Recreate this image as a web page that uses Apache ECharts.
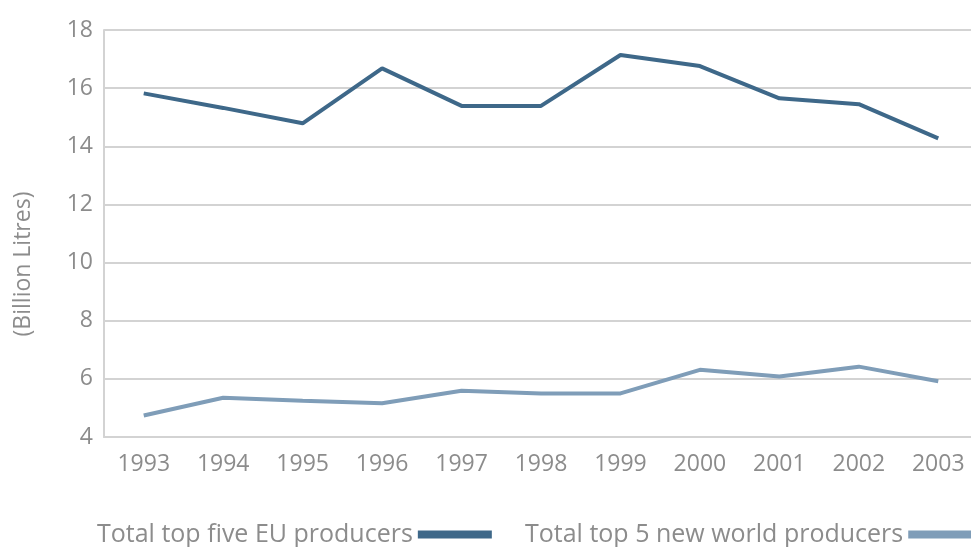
<!DOCTYPE html>
<html>
<head>
<meta charset="utf-8">
<script src="https://cdn.jsdelivr.net/npm/echarts@6/dist/echarts.min.js"></script>
<style>
  html, body { margin: 0; padding: 0; background: #ffffff; }
  #chart { width: 971px; height: 547px; }
</style>
</head>
<body>
<div id="chart"></div>
<script>
// Wine production, billion litres
const years = ['1993', '1994', '1995', '1996', '1997', '1998', '1999', '2000', '2001', '2002', '2003'];
const euTopFive = [15.82, 15.32, 14.79, 16.68, 15.39, 15.39, 17.14, 16.76, 15.65, 15.45, 14.27];
const newWorldTopFive = [4.74, 5.35, 5.25, 5.16, 5.59, 5.50, 5.50, 6.31, 6.08, 6.42, 5.92];
const seriesNames = ['Total top five EU producers', 'Total top 5 new world producers'];
const unitLabel = '(Billion Litres)';

const textGray = '#8c8c8c';
const gridGray = '#d3d3d3';
const fontFamily = '"Open Sans", Lato, sans-serif';

// one legend block per series, icon placed after the text
function legendFor(name, left) {
  return {
    show: true,
    bottom: -5,
    left: left,
    align: 'right',
    itemWidth: 74,
    itemHeight: 8,
    icon: 'rect',
    textStyle: { color: textGray, fontSize: 25, fontFamily: fontFamily },
    data: [name]
  };
}

const chart = echarts.init(document.getElementById('chart'));
chart.setOption({
  animation: false,
  // plot area runs a little past the right edge of the canvas
  grid: { left: 104, top: 30, width: 874, height: 407, outerBoundsMode: 'none', containLabel: false },
  legend: [legendFor(seriesNames[0], 92), legendFor(seriesNames[1], 520)],
  graphic: [{
    type: 'text',
    x: 23,
    y: 264,
    rotation: Math.PI / 2,
    style: {
      text: unitLabel,
      fill: textGray,
      font: '23px ' + fontFamily,
      align: 'center',
      verticalAlign: 'middle'
    }
  }],
  xAxis: {
    type: 'category',
    data: years,
    boundaryGap: true,
    axisLine: { show: true, lineStyle: { color: gridGray, width: 2 } },
    axisTick: { show: false },
    axisLabel: { color: textGray, fontSize: 23, fontFamily: fontFamily, margin: 16 }
  },
  yAxis: {
    type: 'value',
    min: 4,
    max: 18,
    interval: 2,
    axisLine: { show: true, lineStyle: { color: gridGray, width: 2 } },
    axisTick: { show: false },
    axisLabel: { color: textGray, fontSize: 23, fontFamily: fontFamily, margin: 11 },
    splitLine: { show: true, lineStyle: { color: gridGray, width: 2 } }
  },
  series: [
    {
      name: seriesNames[0],
      type: 'line',
      data: euTopFive,
      symbol: 'none',
      itemStyle: { color: '#3e6889' },
      lineStyle: { color: '#3e6889', width: 4 }
    },
    {
      name: seriesNames[1],
      type: 'line',
      data: newWorldTopFive,
      symbol: 'none',
      itemStyle: { color: '#7f9db8' },
      lineStyle: { color: '#7f9db8', width: 4 }
    }
  ]
});
</script>
</body>
</html>
